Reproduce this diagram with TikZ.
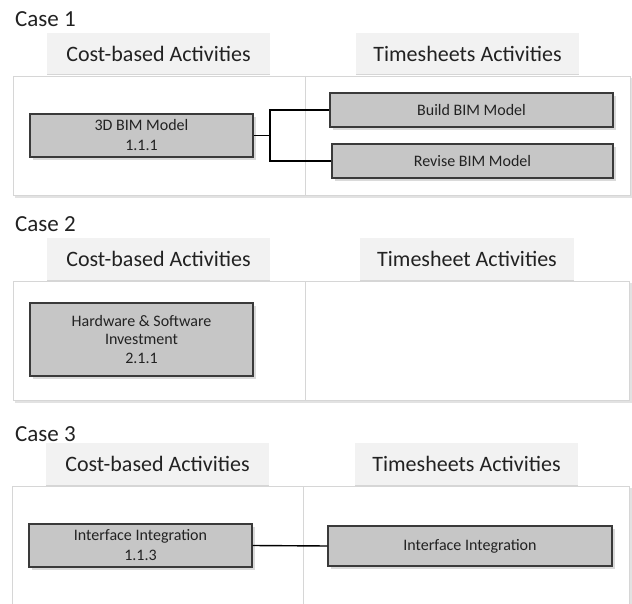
\documentclass[tikz,border=0pt]{standalone}
\usepackage{fontspec}
\setmainfont{Carlito}
\usetikzlibrary{shadows}
\definecolor{boxfill}{HTML}{C6C6C6}
\definecolor{boxline}{HTML}{3A3A3A}
\definecolor{shadowgray}{HTML}{DADADA}
\definecolor{tabfill}{HTML}{F2F2F2}
\definecolor{frameline}{HTML}{D6D6D6}
\definecolor{frameshadow}{HTML}{E2E2E2}
\definecolor{textgray}{HTML}{222222}
\tikzset{
  actbox/.style={draw=boxline, fill=boxfill, line width=1.1pt, inner sep=0pt, align=center,
    font=\fontsize{16}{20}\selectfont, text=textgray,
    drop shadow={shadow xshift=3pt, shadow yshift=-3pt, fill=shadowgray, opacity=1}},
  tab/.style={fill=tabfill, draw=none},
  tabline/.style={draw=frameline, line width=1pt},
  tabtext/.style={font=\fontsize{22}{26}\selectfont, text=textgray},
  casetext/.style={font=\fontsize{23}{26}\selectfont, text=textgray, anchor=base west, inner sep=0pt},
  frame/.style={draw=frameline, line width=0.8pt},
  fshadow/.style={draw=frameshadow, line width=2.5pt},
  conn/.style={draw=black, line width=1.4pt}
}
\begin{document}
\begin{tikzpicture}[x=1pt,y=-1pt]
\useasboundingbox (0,0) rectangle (632,604);

% ---------- Case 1 ----------
\node[casetext] (case1) at (15,27) {Case 1};
\fill[tab] (47,33) rectangle (270,75);
\draw[tabline] (47,75) -- (270,75);
\node[tabtext] (cost1) at (158.5,54) {Cost-based Activities};
\fill[tab] (356,33) rectangle (579,75);
\draw[tabline] (356,75) -- (579,75);
\node[tabtext] (time1) at (467.5,54) {Timesheets Activities};
\draw[fshadow] (15,197) -- (632,197) -- (632,78);
\draw[frame] (13,76) rectangle (630,195);
\draw[frame] (305,76) -- (305,195);

\node[actbox, minimum width=223pt, minimum height=43pt] (bim) at (141.5,135.5) {3D BIM Model\\1.1.1};
\node[actbox, minimum width=283pt, minimum height=34pt] (build) at (471.5,110) {Build BIM Model};
\node[actbox, minimum width=281pt, minimum height=34pt] (revise) at (472.5,161) {Revise BIM Model};
\coordinate (j1) at (270,135.5);
\draw[conn] (bim.east) -- (j1);
\draw[conn] (build.west) -| (j1);
\draw[conn] (revise.west) -| (j1);

% ---------- Case 2 ----------
\node[casetext] (case2) at (15,232) {Case 2};
\fill[tab] (47,238) rectangle (270,280);
\draw[tabline] (47,280) -- (270,280);
\node[tabtext] (cost2) at (158.5,259) {Cost-based Activities};
\fill[tab] (360,238) rectangle (574,280);
\draw[tabline] (360,280) -- (574,280);
\node[tabtext] (time2) at (467,259) {Timesheet Activities};
\draw[fshadow] (15,402) -- (631,402) -- (631,283);
\draw[frame] (13,281) rectangle (629.5,400);
\draw[frame] (305,281) -- (305,400);

\node[actbox, minimum width=223pt, minimum height=73pt, font=\fontsize{16}{18.8}\selectfont] (hw) at (141.5,339.5) {Hardware \& Software\\Investment\\2.1.1};

% ---------- Case 3 ----------
\node[casetext] (case3) at (15,441) {Case 3};
\fill[tab] (46,443) rectangle (269,485);
\draw[tabline] (46,485) -- (269,485);
\node[tabtext] (cost3) at (157.5,464) {Cost-based Activities};
\fill[tab] (355,443) rectangle (578,485);
\draw[tabline] (355,485) -- (578,485);
\node[tabtext] (time3) at (466.5,464) {Timesheets Activities};
\draw[fshadow] (630.5,488) -- (630.5,610);
\draw[frame] (12,610) -- (12,486) -- (629,486) -- (629,610);
\draw[frame] (303,486) -- (303,610);

\node[actbox, minimum width=223pt, minimum height=43pt] (ii1) at (140.5,545.5) {Interface Integration\\1.1.3};
\node[actbox, minimum width=284pt, minimum height=40pt] (ii2) at (470,546) {Interface Integration};
\draw[conn] (ii1.east) -- (ii2.west);
\end{tikzpicture}
\end{document}
